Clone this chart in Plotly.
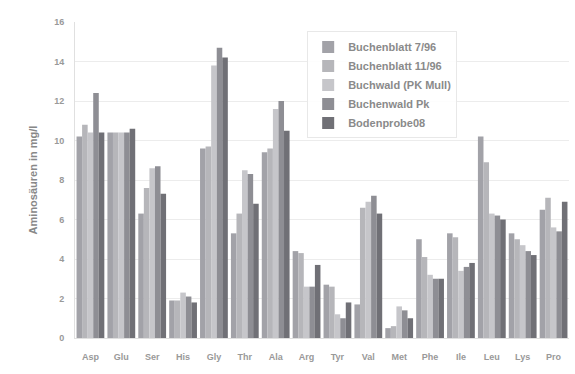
import plotly.graph_objects as go

categories = ["Asp", "Glu", "Ser", "His", "Gly", "Thr", "Ala", "Arg", "Tyr", "Val", "Met", "Phe", "Ile", "Leu", "Lys", "Pro"]
series_names = ["Buchenblatt 7/96", "Buchenblatt 11/96", "Buchwald (PK Mull)", "Buchenwald Pk", "Bodenprobe08"]

s1 = [10.2, 10.4, 6.3, 1.9, 9.6, 5.3, 9.4, 4.4, 2.7, 1.7, 0.5, 5.0, 5.3, 10.2, 5.3, 6.5]
s2 = [10.8, 10.4, 7.6, 1.9, 9.7, 6.3, 9.6, 4.3, 2.6, 6.6, 0.6, 4.1, 5.1, 8.9, 5.0, 7.1]
s3 = [10.4, 10.4, 8.6, 2.3, 13.8, 8.5, 11.6, 2.6, 1.2, 6.9, 1.6, 3.2, 3.4, 6.3, 4.7, 5.6]
s4 = [12.4, 10.4, 8.7, 2.1, 14.7, 8.3, 12.0, 2.6, 1.0, 7.2, 1.4, 3.0, 3.6, 6.2, 4.4, 5.4]
s5 = [10.4, 10.6, 7.3, 1.8, 14.2, 6.8, 10.5, 3.7, 1.8, 6.3, 1.0, 3.0, 3.8, 6.0, 4.2, 6.9]

y_ticks = [0, 2, 4, 6, 8, 10, 12, 14, 16]
colors = ["#a2a2a8", "#b6b6ba", "#c6c6ca", "#8e8e94", "#707076"]

fig = go.Figure()
for name, vals, col in zip(series_names, [s1, s2, s3, s4, s5], colors):
    fig.add_trace(go.Bar(x=categories, y=vals, name=name, marker=dict(color=col, line=dict(width=0))))

fig.update_layout(
    width=575, height=374,
    margin=dict(l=75, r=6, t=22, b=36),
    paper_bgcolor="white", plot_bgcolor="white",
    barmode="group", bargap=0.1, bargroupgap=0,
    font=dict(family="Liberation Sans, Arial, sans-serif", color="#777777", size=9),
    showlegend=True,
    legend=dict(x=0.47, y=0.97, xanchor="left", yanchor="top",
                bgcolor="rgba(255,255,255,0.9)", bordercolor="#e8e8e8", borderwidth=1,
                font=dict(size=11, color="#8a8a8a", weight="bold"), tracegroupgap=0, itemwidth=30),
)
fig.update_yaxes(range=[0, 16], tickvals=y_ticks, showgrid=True, gridcolor="#ececec",
                 zeroline=False, showline=True, linecolor="#e0e0e0", ticks="",
                 ticklabelstandoff=8,
                 tickfont=dict(size=9, color="#999999", weight="bold"),
                 title=dict(text="Aminosäuren in mg/l", font=dict(size=11, color="#888888", weight="bold"), standoff=14))
fig.update_xaxes(showgrid=False, showline=True, linecolor="#e0e0e0", ticks="",
                 ticklabelstandoff=10,
                 tickfont=dict(size=9, color="#999999", weight="bold"))

fig.write_html("out.html")
